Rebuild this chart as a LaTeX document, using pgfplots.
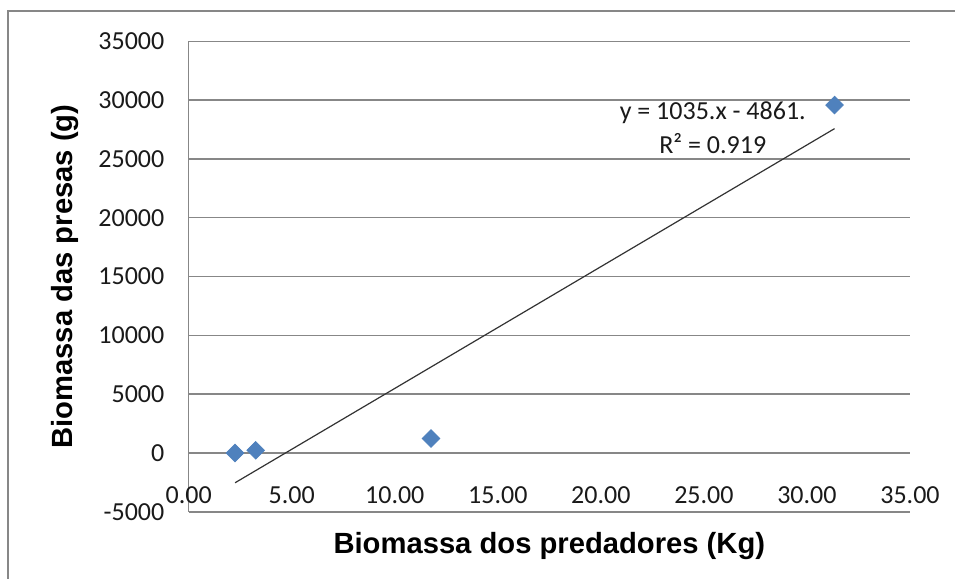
\documentclass[border=0pt]{standalone}
\usepackage{fontspec}
\setmainfont{Carlito}
\newfontfamily\arialfont{Liberation Sans}
\usepackage{pgfplots}
\pgfplotsset{compat=1.18}
\definecolor{gridgray}{HTML}{878787}
\definecolor{ptblue}{HTML}{4F81BD}
\definecolor{txt}{HTML}{1A1A1A}
\begin{document}
\begin{tikzpicture}
\useasboundingbox (-94.35pt,-33.6pt) rectangle (383.15pt,255.9pt);
\fill[white] (-94.35pt,-33.6pt) rectangle (383.15pt,255.9pt);
\draw[gridgray, line width=1pt] (-90.35pt,-40pt) -- (-90.35pt,250.4pt) -- (390pt,250.4pt);
\begin{axis}[
  at={(0,0)}, anchor=south west,
  scale only axis,
  width=360.65pt, height=235.25pt,
  xmin=0, xmax=35, ymin=-5000, ymax=35000,
  scaled ticks=false,
  axis x line*=bottom, axis y line*=left,
  axis line style={gridgray, line width=0.75pt, -},
  major tick length=0pt,
  xtick={0,5,...,35},
  xticklabels={0.00,5.00,10.00,15.00,20.00,25.00,30.00,35.00},
  ytick={-5000,0,5000,10000,15000,20000,25000,30000,35000},
  yticklabels={-5000,0,5000,10000,15000,20000,25000,30000,35000},
  ymajorgrids,
  grid style={gridgray, line width=0.75pt},
  tick label style={font=\fontsize{13pt}{15pt}\selectfont, text=txt, inner sep=0pt},
  xticklabel style={anchor=base, yshift=4.25pt},
  yticklabel style={anchor=east, xshift=-12pt},
  xlabel={Biomassa dos predadores (Kg)},
  ylabel={Biomassa das presas (g)},
  label style={font=\arialfont\bfseries\fontsize{14.6pt}{17pt}\selectfont, text=black, inner sep=0pt},
  xlabel style={at={(axis description cs:0.5,-0.0886)}, anchor=base},
  ylabel style={at={(axis description cs:-0.1604,0.5)}, anchor=base},
  clip=false,
]
\addplot[only marks, mark=square*, mark size=3.1pt, mark options={rotate=45, fill=ptblue, draw=ptblue}]
  coordinates {(2.25,0) (3.25,230) (11.76,1230) (31.34,29580)};
\addplot[color=black!80, line width=0.6pt]
  coordinates {(2.25,-2532) (31.34,27576)};
\node[font=\fontsize{13pt}{15pt}\selectfont, text=txt, inner sep=0pt] at (axis cs:25.43,28890) {y = 1035.x - 4861.};
\node[font=\fontsize{13pt}{15pt}\selectfont, text=txt, inner sep=0pt] at (axis cs:25.43,26276) {R² = 0.919};
\end{axis}
\end{tikzpicture}
\end{document}
